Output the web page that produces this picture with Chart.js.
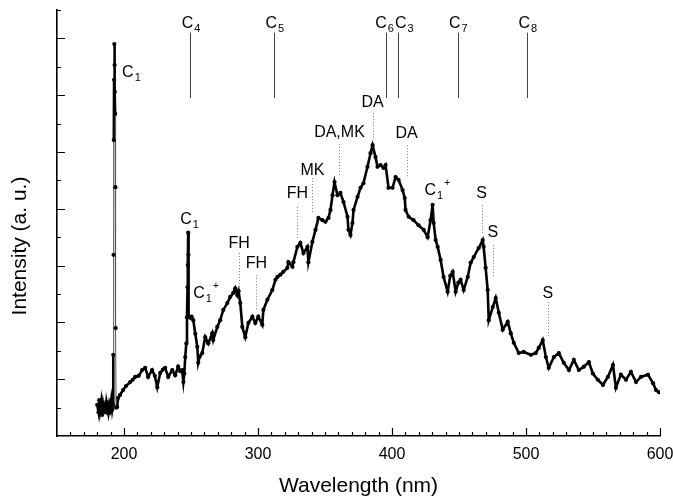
<!DOCTYPE html>
<html>
<head>
<meta charset="utf-8">
<script src="https://cdn.jsdelivr.net/npm/chart.js@4.4.1/dist/chart.umd.min.js"></script>
<style>
  html, body { margin: 0; padding: 0; background: #fff; }
  #wrap { width: 673px; height: 499px; }
</style>
</head>
<body>
<div id="wrap"><canvas id="spectrum" width="673" height="499"></canvas></div>
<script>
// emission spectrum, wavelength in nm, intensity in arbitrary units
const wavelength = [
  180.0, 181.0, 181.5, 182.2, 183.0, 183.7, 184.4, 185.2, 186.0, 186.8, 187.5, 188.3, 189.0, 189.8, 190.5, 191.2, 191.8,
  192.0, 192.2, 192.4, 192.6, 192.8, 193.0, 193.2, 193.4, 193.6, 193.8, 194.1,
  194.9, 195.6, 197.0, 199.3, 201.5, 204.6, 206.5, 208.3, 211.0, 213.5, 215.8, 218.0, 221.0, 223.0, 224.8, 227.0,
  229.0, 230.7, 233.0, 236.0, 238.2, 240.4, 242.0, 243.4, 244.3, 245.0, 245.7, 246.5, 247.0, 247.4, 247.6, 247.9,
  248.1, 248.3, 249.4, 250.5, 251.7, 253.2, 254.7, 255.4, 256.5, 258.4, 260.6, 262.9, 265.9, 266.6, 269.6, 271.8,
  274.1, 277.1, 279.3, 281.6, 283.0, 284.6, 285.5, 286.8, 288.3, 290.5, 292.8, 295.8, 298.0, 300.2, 303.2, 304.0,
  307.0, 310.7, 313.0, 314.5, 316.7, 318.9, 321.9, 322.7, 325.7, 326.4, 329.4, 331.6, 333.9, 336.9, 337.6, 340.6,
  342.9, 345.1, 348.1, 350.3, 352.6, 354.1, 355.6, 357.1, 359.3, 361.5, 363.8, 366.8, 367.5, 369.0, 370.5, 371.3,
  374.3, 376.5, 378.7, 381.7, 384.0, 385.5, 387.7, 389.2, 391.4, 393.7, 395.2, 397.4, 400.4, 402.7, 404.9, 407.9,
  409.5, 410.1, 412.4, 416.1, 419.8, 423.6, 426.6, 428.8, 430.3, 431.1, 432.6, 434.1, 436.3, 438.5, 441.5, 443.5,
  445.3, 447.5, 449.5, 451.2, 453.5, 456.5, 458.7, 461.0, 464.7, 467.7, 468.4, 469.9, 471.4, 472.2, 475.2, 477.4,
  479.7, 482.6, 486.4, 488.6, 490.9, 494.6, 498.3, 503.6, 507.3, 509.5, 512.5, 514.8, 517.0, 520.8, 524.5, 528.2,
  532.0, 535.7, 539.4, 543.2, 546.9, 549.9, 553.6, 557.4, 561.1, 564.9, 567.1, 570.8, 574.6, 578.3, 582.1, 585.8,
  591.0, 594.8, 597.0, 599.2
];
const intensity = [
  0.55, 0.42, 0.63, 0.46, 0.60, 0.37, 0.56, 0.44, 0.42, 0.60, 0.49, 0.40, 0.56, 0.48, 0.63, 0.46, 0.55,
  1.43, 3.19, 5.21, 6.27, 6.90, 6.53, 6.06, 5.67, 4.38, 1.90, 0.50,
  0.51, 0.67, 0.72, 0.81, 0.88, 0.95, 0.99, 1.04, 1.06, 1.16, 1.20, 1.04, 1.16, 1.06, 0.86, 1.11,
  1.17, 1.20, 1.04, 1.16, 1.07, 1.22, 1.14, 1.16, 0.95, 1.10, 1.39, 1.63, 2.09, 2.62, 3.01, 3.58,
  3.19, 2.10, 2.08, 2.10, 2.04, 1.80, 1.57, 1.29, 1.40, 1.46, 1.74, 1.63, 1.81, 1.69, 1.92, 2.04,
  2.22, 2.34, 2.45, 2.52, 2.60, 2.48, 2.55, 2.34, 1.92, 1.74, 1.99, 2.10, 1.99, 2.10, 1.96, 2.22,
  2.40, 2.57, 2.75, 2.80, 2.84, 2.89, 2.96, 3.06, 2.98, 3.06, 3.33, 3.40, 3.22, 3.33, 3.06, 3.42,
  3.63, 3.84, 3.80, 3.77, 3.84, 3.98, 4.24, 4.47, 4.24, 4.28, 4.12, 3.86, 3.63, 3.54, 3.75, 3.98,
  4.21, 4.37, 4.45, 4.74, 4.98, 5.12, 4.91, 4.74, 4.77, 4.72, 4.77, 4.37, 4.37, 4.56, 4.51, 4.33,
  4.19, 3.98, 3.86, 3.80, 3.71, 3.63, 3.50, 3.80, 4.07, 3.75, 3.45, 3.33, 3.10, 2.80, 2.54, 2.82,
  2.89, 2.54, 2.70, 2.75, 2.57, 2.80, 3.05, 3.15, 3.31, 3.45, 3.33, 2.96, 2.57, 2.04, 2.27, 2.43,
  2.17, 1.87, 2.01, 1.81, 1.64, 1.46, 1.48, 1.43, 1.46, 1.55, 1.69, 1.39, 1.20, 1.39, 1.46, 1.29,
  1.16, 1.34, 1.16, 1.22, 1.30, 1.10, 0.99, 0.90, 1.04, 1.25, 0.85, 1.08, 0.99, 1.13, 0.95, 1.04,
  1.08, 0.93, 0.81, 0.77
];

const xTickLabels = [200, 300, 400, 500, 600];

// C_n lines marked along the top
const topNames = ['C4', 'C5', 'C6', 'C3', 'C7', 'C8'];
const topNm = [249.4, 312.0, 395.2, 404.4, 449.0, 500.8];
const topLabelNm = [250.0, 312.5, 394.4, 409.2, 449.5, 501.3];

// band assignments with dotted leaders
const peakNames = ['FH', 'FH', 'FH', 'MK', 'DA,MK', 'DA', 'DA', 'S', 'S', 'S'];
const peakNm = [286.0, 298.8, 329.4, 340.6, 360.8, 385.5, 410.9, 466.9, 475.2, 516.3];
const peakLabelY = [3.31, 2.96, 4.19, 4.60, 5.26, 5.79, 5.25, 4.19, 3.50, 2.43];
const peakLineTop = [3.22, 2.83, 4.03, 4.54, 5.14, 5.69, 5.12, 4.07, 3.36, 2.36];
const peakLineBottom = [2.62, 2.22, 3.45, 3.94, 4.56, 5.21, 4.56, 3.57, 2.78, 1.74];

// atomic / ionic lines, label placed to the right
const ionNames = ['C1', 'C1', 'C1+', 'C1+'];
const ionNm = [198.6, 242.0, 251.7, 424.3];
const ionY = [6.32, 3.73, 2.43, 4.24];

const FONT = "'Liberation Sans', Arial, Helvetica, sans-serif";

function drawSpecies(ctx, text, x, y, centered) {
  const m = text.match(/^([A-Z])(\d)(\+?)$/);
  ctx.textBaseline = 'alphabetic';
  if (!m) {
    ctx.font = '16px ' + FONT;
    ctx.textAlign = 'center';
    ctx.fillText(text, x, y);
    return;
  }
  ctx.textAlign = 'left';
  ctx.font = '16px ' + FONT;
  const w1 = ctx.measureText(m[1]).width;
  ctx.font = '11px ' + FONT;
  const w2 = ctx.measureText(m[2]).width;
  const total = w1 + 1 + w2;
  const x0 = centered ? x - total / 2 : x;
  ctx.font = '16px ' + FONT;
  ctx.fillText(m[1], x0, y);
  ctx.font = '11px ' + FONT;
  ctx.fillText(m[2], x0 + w1 + 1, y + 4);
  if (m[3]) {
    ctx.font = '10px ' + FONT;
    ctx.fillText(m[3], x0 + w1 + w2 + 2, y - 9);
  }
}

const decorations = {
  id: 'decorations',
  afterDraw(chart) {
    const { ctx, chartArea } = chart;
    const xs = chart.scales.x;
    const ys = chart.scales.y;
    ctx.save();

    // inward ticks
    ctx.strokeStyle = '#000';
    ctx.lineWidth = 1.2;
    ctx.beginPath();
    for (let v = 160; v <= 600; v += 10) {
      const px = Math.round(xs.getPixelForValue(v)) + 0.5;
      const len = v % 100 === 0 ? 8 : 4;
      ctx.moveTo(px, chartArea.bottom);
      ctx.lineTo(px, chartArea.bottom - len);
    }
    for (let i = 1; i <= 15; i++) {
      const py = Math.round(ys.getPixelForValue(i * 0.5)) + 0.5;
      const len = i % 2 === 0 ? 8 : 4;
      ctx.moveTo(chartArea.left, py);
      ctx.lineTo(chartArea.left + len, py);
    }
    ctx.stroke();

    ctx.fillStyle = '#000';

    // top marker lines
    ctx.strokeStyle = '#444';
    ctx.lineWidth = 1;
    topNm.forEach((nm, i) => {
      const px = Math.round(xs.getPixelForValue(nm)) + 0.5;
      ctx.beginPath();
      ctx.moveTo(px, ys.getPixelForValue(7.10));
      ctx.lineTo(px, ys.getPixelForValue(5.95));
      ctx.stroke();
      drawSpecies(ctx, topNames[i], xs.getPixelForValue(topLabelNm[i]), ys.getPixelForValue(7.18), true);
    });

    // dotted leaders and band labels
    ctx.strokeStyle = '#777';
    ctx.setLineDash([1, 2]);
    peakNm.forEach((nm, i) => {
      const px = Math.round(xs.getPixelForValue(nm)) + 0.5;
      ctx.beginPath();
      ctx.moveTo(px, ys.getPixelForValue(peakLineTop[i]));
      ctx.lineTo(px, ys.getPixelForValue(peakLineBottom[i]));
      ctx.stroke();
    });
    ctx.setLineDash([]);
    peakNm.forEach((nm, i) => {
      drawSpecies(ctx, peakNames[i], xs.getPixelForValue(nm), ys.getPixelForValue(peakLabelY[i]), true);
    });

    ionNm.forEach((nm, i) => {
      drawSpecies(ctx, ionNames[i], xs.getPixelForValue(nm), ys.getPixelForValue(ionY[i]), false);
    });

    // y axis title
    ctx.save();
    ctx.translate(20, (chartArea.top + chartArea.bottom) / 2 + 23);
    ctx.rotate(-Math.PI / 2);
    ctx.font = '21px ' + FONT;
    ctx.textAlign = 'center';
    ctx.textBaseline = 'middle';
    ctx.fillText('Intensity (a. u.)', 0, 0);
    ctx.restore();

    ctx.restore();
  }
};

// near-vertical jumps (the sharp atomic line) are drawn thin and grey
const steep = (c) => Math.abs(c.p1.parsed.y - c.p0.parsed.y) > 1.2;

new Chart(document.getElementById('spectrum'), {
  type: 'line',
  data: {
    datasets: [{
      data: wavelength.map((w, i) => ({ x: w, y: intensity[i] })),
      borderColor: '#000',
      borderWidth: 2.6,
      pointRadius: 2.1,
      pointBackgroundColor: '#000',
      pointBorderWidth: 0,
      tension: 0,
      fill: false,
      segment: {
        borderWidth: (c) => steep(c) ? 1 : undefined,
        borderColor: (c) => steep(c) ? '#555' : undefined
      }
    }]
  },
  options: {
    responsive: false,
    animation: false,
    events: [],
    layout: { padding: { top: 10, right: 13, left: 0, bottom: 0 } },
    plugins: {
      legend: { display: false },
      tooltip: { enabled: false }
    },
    scales: {
      x: {
        type: 'linear',
        min: 150,
        max: 600,
        afterBuildTicks: (scale) => { scale.ticks = xTickLabels.map(v => ({ value: v })); },
        afterFit: (scale) => {
          scale.height = 63;
          scale.paddingLeft = 0;
          scale.paddingRight = 0;
        },
        grid: { display: false, drawTicks: false },
        border: { display: true, color: '#000', width: 1.6 },
        ticks: {
          color: '#000',
          padding: 9,
          maxRotation: 0,
          font: { family: FONT, size: 16 }
        },
        title: {
          display: true,
          text: 'Wavelength (nm)',
          color: '#000',
          padding: { top: 0, bottom: 0 },
          font: { family: FONT, size: 21 }
        }
      },
      y: {
        type: 'linear',
        min: 0,
        max: 7.5,
        afterFit: (scale) => {
          scale.width = 57;
          scale.paddingTop = 0;
          scale.paddingBottom = 0;
        },
        grid: { display: false, drawTicks: false },
        border: { display: true, color: '#000', width: 1.6 },
        ticks: { display: false }
      }
    }
  },
  plugins: [decorations]
});
</script>
</body>
</html>
